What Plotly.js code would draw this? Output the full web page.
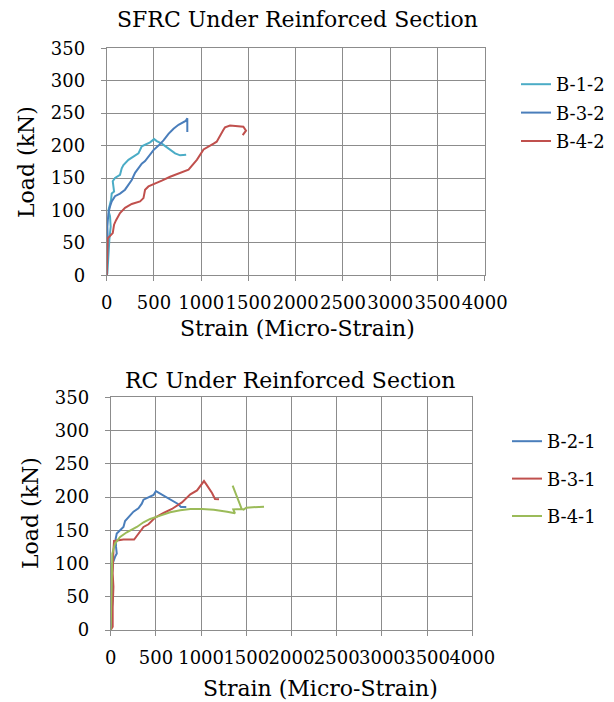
<!DOCTYPE html>
<html>
<head>
<meta charset="utf-8">
<script src="https://cdn.plot.ly/plotly-3.0.1.min.js"></script>
<style>html,body{margin:0;padding:0;background:#fff;overflow:hidden;width:614px;height:702px;}#chart{width:640px;height:702px;}</style>
</head>
<body>
<div id="chart"></div>
<script>
// ---- Data: SFRC under reinforced section (top chart) ----
var b12Strain = [0,7,28,42,35,18,46,53,78,71,64,88,141,159,177,230,283,336,371,424,459,502,530,583,654,724,777,841];
var b12Load   = [0,3,55,75,91,100,116,126,129,137,145,150,155,165,170,178,183,188,199,203,205,210,207,203,196,188,185,186];

var b32Strain = [0,7,11,7,18,35,53,88,141,194,230,265,300,336,371,406,442,495,548,601,654,707,760,813,835,853,853];
var b32Load   = [0,29,55,75,96,106,114,122,126,132,140,147,158,165,172,176,183,193,200,208,218,226,232,237,238,242,221];

var b42Strain = [0,7,7,11,35,64,78,99,141,194,265,353,389,406,442,512,583,671,760,866,954,1025,1131,1164,1234,1252,1305,1446,1474,1439];
var b42Load   = [0,19,39,57,60,65,78,85,96,104,110,114,119,132,137,141,146,152,157,163,178,194,203,206,224,228,231,229,223,216];

// ---- Data: RC under reinforced section (bottom chart) ----
var b21Strain = [0,11,22,11,22,48,67,59,55,67,104,141,159,196,252,307,344,363,418,474,500,548,603,677,740,777,836];
var b21Load   = [0,30,50,80,100,110,115,125,137,145,150,155,164,170,178,183,190,196,200,203,209,205,201,195,190,185,185];

var b31Strain = [0,22,22,30,22,22,30,37,141,259,307,363,418,492,585,677,788,881,955,1010,1032,1058,1121,1154,1198];
var b31Load   = [0,5,35,65,85,105,120,134,136,136,145,155,159,169,176,182,192,204,210,220,224,219,206,197,196.5];

var b41Strain = [0,4,11,11,18,48,104,178,289,363,437,548,658,769,881,1010,1140,1288,1375,1356,1449,1349,1449,1470,1500,1696];
var b41Load   = [0,35,70,100,115,130,140,147,155,162,167,172,177,180,182,182,181,178,175.5,181.5,182,217,182,181,184,185.5];

var xTickVals = [0,500,1000,1500,2000,2500,3000,3500,4000];
var yTickVals = [0,50,100,150,200,250,300,350];

var topTitle = "SFRC Under Reinforced Section";
var bottomTitle = "RC Under Reinforced Section";
var xTitle = "Strain (Micro-Strain)";
var yTitle = "Load (kN)";

var FONT = "DejaVu Serif, Liberation Serif, serif";
var W = 640, H = 702; // layout is a bit wider than the window so the legends are not pushed left

function line(name, x, y, color, xa, ya, leg, grp) {
  return {type:'scatter', mode:'lines', name:name, x:x, y:y,
    xaxis:xa, yaxis:ya, legend:leg, legendgroup:grp,
    line:{color:color, width:2}, hoverinfo:'skip'};
}

var traces = [
  line('B-1-2', b12Strain, b12Load, '#4BACC6', 'x', 'y', 'legend', 'g1'),
  line('B-3-2', b32Strain, b32Load, '#4A7EBB', 'x', 'y', 'legend', 'g2'),
  line('B-4-2', b42Strain, b42Load, '#C0504D', 'x', 'y', 'legend', 'g3'),
  line('B-2-1', b21Strain, b21Load, '#4A7EBB', 'x2', 'y2', 'legend2', 'g4'),
  line('B-3-1', b31Strain, b31Load, '#C0504D', 'x2', 'y2', 'legend2', 'g5'),
  line('B-4-1', b41Strain, b41Load, '#9BBB59', 'x2', 'y2', 'legend2', 'g6')
];

var GRID = '#8c8c8c';
function xax(domain, anchor) {
  return {domain:domain, anchor:anchor, range:[0,4000], tickmode:'array', tickvals:xTickVals,
    ticktext:xTickVals.map(String), tickangle:0, showgrid:true, gridcolor:GRID, gridwidth:1,
    showline:true, linecolor:GRID, linewidth:1, mirror:true, ticks:'outside', ticklen:5, tickcolor:GRID,
    zeroline:false, ticklabelstandoff:6, tickfont:{family:FONT, size:18, color:'#000'}, fixedrange:true};
}
function yax(domain, anchor) {
  return {domain:domain, anchor:anchor, range:[0,350], tickmode:'array', tickvals:yTickVals,
    ticktext:yTickVals.map(String), showgrid:true, gridcolor:GRID, gridwidth:1,
    showline:true, linecolor:GRID, linewidth:1, mirror:true, ticks:'outside', ticklen:5, tickcolor:GRID,
    zeroline:false, ticklabelstandoff:12, tickfont:{family:FONT, size:18, color:'#000'}, fixedrange:true};
}

var ann = function(text, px, py, size, angle) {
  return {text:text, x:px/W, y:1-py/H, xref:'paper', yref:'paper', xanchor:'center', yanchor:'middle',
    showarrow:false, textangle:angle||0, font:{family:FONT, size:size, color:'#000'}};
};

var layout = {
  width:W, height:H,
  margin:{l:0, r:0, t:0, b:0, autoexpand:false},
  paper_bgcolor:'#fff', plot_bgcolor:'#fff',
  font:{family:FONT, color:'#000'},
  showlegend:true,
  xaxis: xax([106.7/W, 484.7/W], 'y'),
  yaxis: yax([1-275.3/H, 1-48.3/H], 'x'),
  xaxis2: xax([110.7/W, 472.3/W], 'y2'),
  yaxis2: yax([1-630/H, 1-397.3/H], 'x2'),
  legend:{x:516/W, y:1-66/H, xanchor:'left', yanchor:'top', bgcolor:'rgba(0,0,0,0)',
    font:{family:FONT, size:18, color:'#000'}, tracegroupgap:2, itemwidth:30},
  legend2:{x:507/W, y:1-423/H, xanchor:'left', yanchor:'top', bgcolor:'rgba(0,0,0,0)',
    font:{family:FONT, size:18, color:'#000'}, tracegroupgap:11, itemwidth:30},
  annotations:[
    ann(topTitle, 297, 20, 22),
    ann(xTitle, 297, 328, 22),
    ann(yTitle, 26, 162, 22, -90),
    ann(bottomTitle, 290, 380, 22),
    ann(xTitle, 320, 688, 22),
    ann(yTitle, 30, 513, 22, -90)
  ]
};

Plotly.newPlot('chart', traces, layout, {displayModeBar:false, staticPlot:true});
</script>
</body>
</html>
